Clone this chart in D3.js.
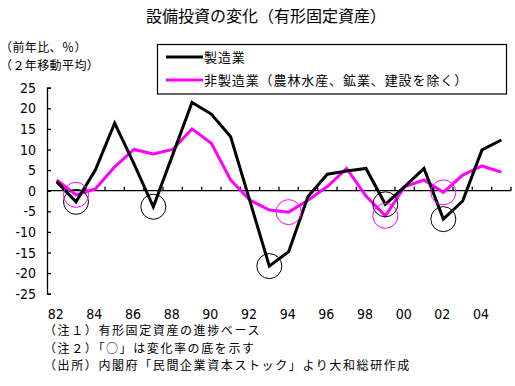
<!DOCTYPE html>
<html>
<head>
<meta charset="utf-8">
<script src="https://cdn.jsdelivr.net/npm/d3@7"></script>
<style>
  body { margin: 0; background: #fff; }
  text { font-family: "Noto Sans CJK JP", sans-serif; fill: #000; }
  .num { font-family: "Liberation Sans Narrow", "DejaVu Sans Condensed", "Liberation Sans", sans-serif; font-size: 14px; }
</style>
</head>
<body>
<div id="chart"></div>
<script>
// years (2-digit labels), one category per year
var years = ["82","83","84","85","86","87","88","89","90","91","92","93",
             "94","95","96","97","98","99","00","01","02","03","04","05"];
// 製造業 (前年比、%, 2年移動平均)
var manufacturing = [2.2, -2.7, 5.0, 16.4, 6.5, -3.9, 8.7, 21.4, 18.6, 13.1, -2.6, -18.3,
                     -14.8, -1.4, 4.0, 4.8, 5.4, -3.3, 1.0, 5.4, -6.9, -2.5, 9.9, 12.3];
// 非製造業（農林水産、鉱業、建設を除く）
var nonManufacturing = [2.6, -1.0, 0.4, 5.8, 10.0, 8.9, 10.0, 15.0, 11.5, 2.6, -2.3, -4.7,
                        -5.2, -2.3, 1.0, 5.4, -1.3, -6.1, 1.0, 2.6, -0.4, 3.8, 6.0, 4.5];
// troughs marked with a circle
var manufacturingLows = ["83", "87", "93", "99", "02"];
var nonManufacturingLows = ["83", "94", "99", "02"];
var yTicks = [25, 20, 15, 10, 5, 0, -5, -10, -15, -20, -25];
var xLabels = ["82","84","86","88","90","92","94","96","98","00","02","04"];
var notes = ["（注１）有形固定資産の進捗ベース",
             "（注２）「○」は変化率の底を示す",
             "（出所）内閣府「民間企業資本ストック」より大和総研作成"];

var width = 515, height = 386;
var svg = d3.select("#chart").append("svg")
      .attr("width", width)
      .attr("height", height);

var x = d3.scaleBand()
      .domain(years)
      .range([47, 511]);
var y = d3.scaleLinear()
      .domain([-25, 25])
      .range([293.7, 87.7]);

// title
svg.append("text")
  .attr("x", 266).attr("y", 22)
  .attr("text-anchor", "middle")
  .style("font-size", "16px")
  .text("設備投資の変化（有形固定資産）");

// unit labels
svg.append("text").attr("x", 0).attr("y", 52)
  .style("font-size", "12px").style("letter-spacing", "0.4px").text("（前年比、％）");
svg.append("text").attr("x", 0).attr("y", 69.5)
  .style("font-size", "12px").style("letter-spacing", "0.4px").text("（２年移動平均）");

// y axis, ticks pointing inward
var yAxis = svg.append("g")
      .attr("transform", "translate(47,0)")
      .call(d3.axisRight(y).tickValues(yTicks).tickSize(4).tickFormat(""));
yAxis.select(".domain").attr("stroke", "#000").attr("stroke-width", 1.3);
yAxis.selectAll(".tick line").attr("stroke", "#000").attr("stroke-width", 1.3);

svg.selectAll(".ylab")
  .data(yTicks)
  .enter().append("text")
  .attr("class", "ylab num")
  .attr("x", 36)
  .attr("y", function(d) { return y(d) + 5; })
  .attr("text-anchor", "end")
  .text(function(d) { return d; });

// x axis along zero, ticks at category boundaries pointing up
var bounds = years.map(function(d) { return x(d); }).concat([x.range()[1]]);
var xAxis = svg.append("g").attr("class", "xaxis");
xAxis.append("line")
  .attr("x1", x.range()[0]).attr("x2", x.range()[1])
  .attr("y1", y(0)).attr("y2", y(0))
  .attr("stroke", "#000").attr("stroke-width", 1.3);
xAxis.selectAll(".xtick")
  .data(bounds.slice(1))
  .enter().append("line")
  .attr("x1", function(d) { return d; }).attr("x2", function(d) { return d; })
  .attr("y1", y(0)).attr("y2", y(0) - 4)
  .attr("stroke", "#000").attr("stroke-width", 1.3);

svg.selectAll(".xlab")
  .data(xLabels)
  .enter().append("text")
  .attr("class", "xlab num")
  .attr("x", function(d) { return x(d) + x.bandwidth() / 2 - 1; })
  .attr("y", 319)
  .attr("text-anchor", "middle")
  .text(function(d) { return d; });

// lines
var line = function(vals) {
  return d3.line()
    .x(function(d, i) { return x(years[i]) + x.bandwidth() / 2; })
    .y(function(d) { return y(d); })(vals);
};

svg.append("path")
  .attr("d", line(nonManufacturing))
  .attr("fill", "none").attr("stroke", "#ff00ff").attr("stroke-width", 3);
svg.append("path")
  .attr("d", line(manufacturing))
  .attr("fill", "none").attr("stroke", "#000").attr("stroke-width", 3);

// trough circles
function circles(lows, vals, color) {
  svg.selectAll(null)
    .data(lows)
    .enter().append("circle")
    .attr("cx", function(d) { return x(d) + x.bandwidth() / 2; })
    .attr("cy", function(d) { return y(vals[years.indexOf(d)]); })
    .attr("r", 12.5)
    .attr("fill", "none")
    .attr("stroke", color)
    .attr("stroke-width", 1);
}
circles(manufacturingLows, manufacturing, "#000");
circles(nonManufacturingLows, nonManufacturing, "#ff00ff");

// legend
var legend = svg.append("g");
legend.append("rect")
  .attr("x", 157.5).attr("y", 44.5).attr("width", 349).attr("height", 49.5)
  .attr("fill", "#fff").attr("stroke", "#000").attr("stroke-width", 1.2);
var legendItems = [
  {name: "製造業", color: "#000"},
  {name: "非製造業（農林水産、鉱業、建設を除く）", color: "#ff00ff"}
];
legendItems.forEach(function(item, i) {
  var ly = 57 + i * 23;
  legend.append("line")
    .attr("x1", 166).attr("x2", 203)
    .attr("y1", ly).attr("y2", ly)
    .attr("stroke", item.color).attr("stroke-width", 3);
  legend.append("text")
    .attr("x", 204).attr("y", ly + 5)
    .style("font-size", "13px")
    .style("letter-spacing", "0.9px")
    .text(item.name);
});

// notes
svg.selectAll(".note")
  .data(notes)
  .enter().append("text")
  .attr("class", "note")
  .attr("x", 44)
  .attr("y", function(d, i) { return 335 + i * 17.5; })
  .style("font-size", "12px")
  .style("letter-spacing", "1.6px")
  .text(function(d) { return d; });
</script>
</body>
</html>
